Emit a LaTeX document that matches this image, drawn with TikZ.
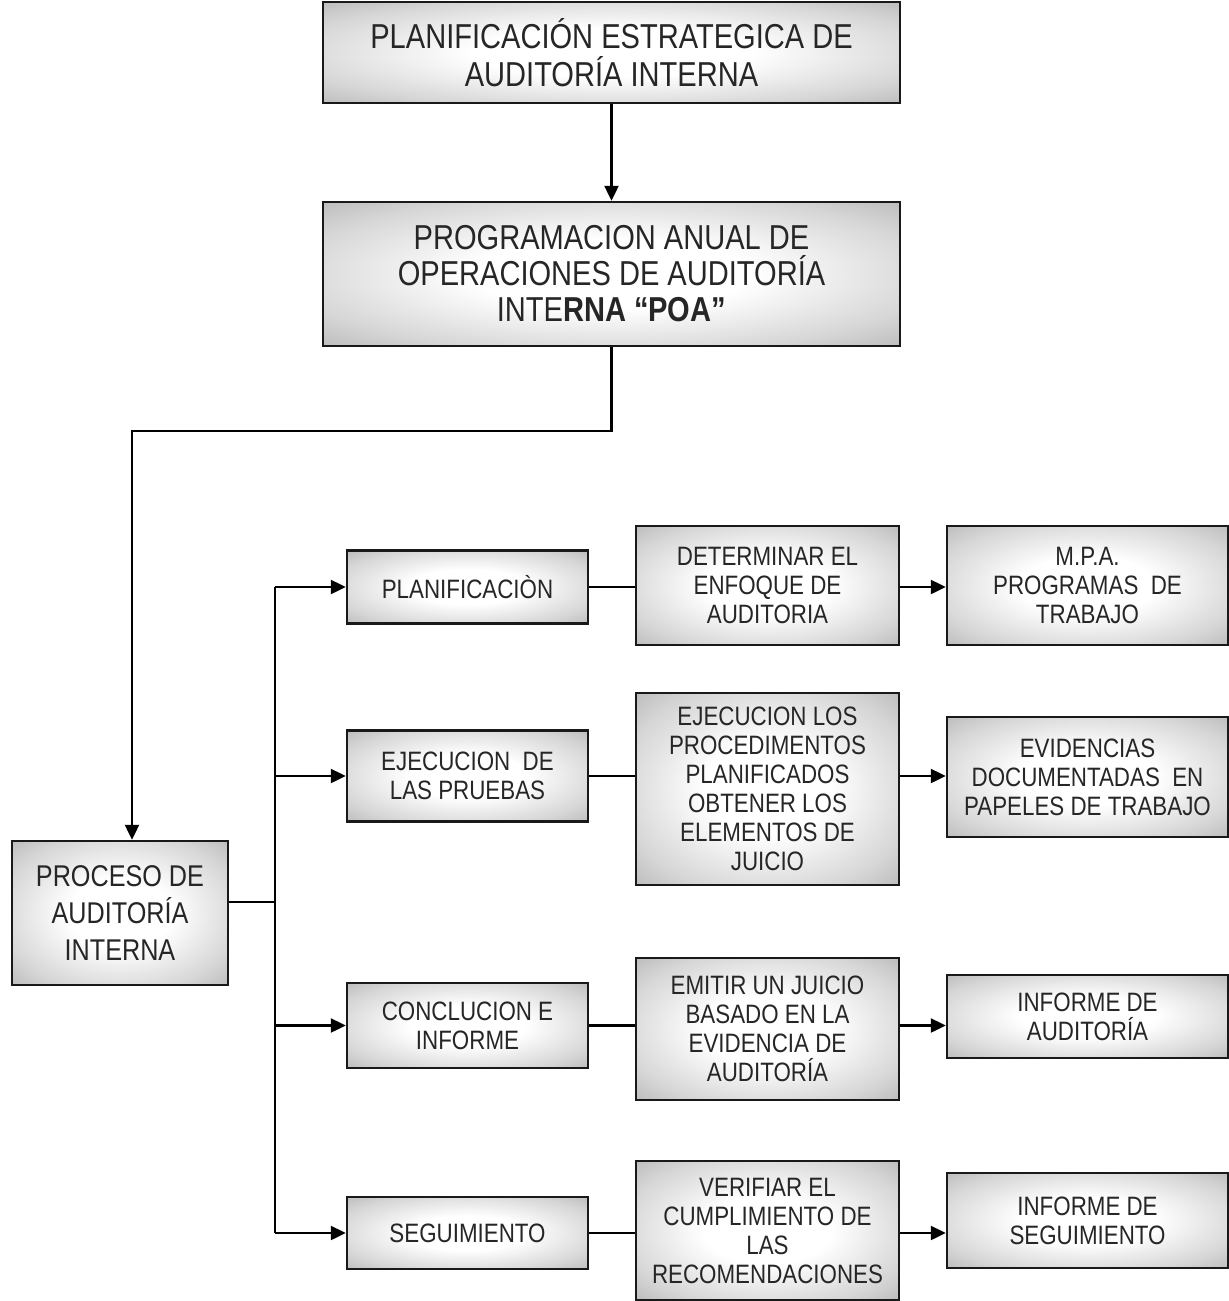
\documentclass[tikz,border=0pt]{standalone}
\usepackage{fontspec}
\setmainfont{Liberation Sans}[FakeStretch=0.84]
\usetikzlibrary{arrows.meta}
\pgfdeclareradialshading{glow}{\pgfpoint{0bp}{0bp}}{%
  color(0bp)=(white); color(12bp)=(white); color(28bp)=(black!16);
  color(44bp)=(black!37); color(100bp)=(black!37)}
\tikzset{
  box/.style={draw=black!90, line width=1.2pt, shade, shading=glow,
    align=center, inner sep=2pt, text=black!85},
  col1/.style={box, minimum width=120.5pt, font=\fontsize{13.3}{14.5}\selectfont},
  col2/.style={box, minimum width=131.5pt, font=\fontsize{13.3}{14.5}\selectfont},
  col3/.style={box, minimum width=140.5pt, font=\fontsize{13.3}{14.5}\selectfont},
  conn/.style={line width=1.1pt},
  arr/.style={conn, -{Triangle[length=7.5pt,width=7pt]}},
}
\begin{document}
\begin{tikzpicture}[x=0.5pt,y=-0.5pt]
  \useasboundingbox (0,0) rectangle (1228,1301);
  % Strategic plan and yearly programme
  \node[box, minimum width=288.5pt, minimum height=50.5pt,
    font=\fontsize{17.3}{19}\selectfont] (pea) at (611.5,52.5)
    {PLANIFICACIÓN ESTRATEGICA DE\\AUDITORÍA INTERNA};
  \node[box, minimum width=288.5pt, minimum height=72pt,
    font=\fontsize{17.3}{18}\selectfont] (poa) at (611.5,274)
    {PROGRAMACION ANUAL DE\\OPERACIONES DE AUDITORÍA\\INTE\textbf{RNA “POA”}};
  % Process box
  \node[box, minimum width=108pt, minimum height=72pt,
    font=\fontsize{15}{18.5}\selectfont] (proc) at (120,913)
    {PROCESO DE\\AUDITORÍA\\INTERNA};
  % First column
  \node[col1, minimum height=36.5pt] (planif) at (467.5,587) {PLANIFICACIÒN};
  \node[col1, minimum height=45.5pt] (ejec) at (467.5,776) {EJECUCION~~DE\\LAS PRUEBAS};
  \node[col1, minimum height=42.5pt] (concl) at (467.5,1025.5) {CONCLUCION E\\INFORME};
  \node[col1, minimum height=36pt] (seg) at (467.5,1233) {SEGUIMIENTO};
  % Second column
  \node[col2, minimum height=59.5pt] (enfoque) at (767.5,585.5)
    {DETERMINAR EL\\ENFOQUE DE\\AUDITORIA};
  \node[col2, minimum height=96pt] (proced) at (767.5,789)
    {EJECUCION LOS\\PROCEDIMENTOS\\PLANIFICADOS\\OBTENER LOS\\ELEMENTOS DE\\JUICIO};
  \node[col2, minimum height=71pt] (juicio) at (767.5,1029)
    {EMITIR UN JUICIO\\BASADO EN LA\\EVIDENCIA DE\\AUDITORÍA};
  \node[col2, minimum height=69.5pt] (verif) at (767.5,1230.5)
    {VERIFIAR EL\\CUMPLIMIENTO DE\\LAS\\RECOMENDACIONES};
  % Third column
  \node[col3, minimum height=59.5pt] (mpa) at (1087.5,585.5)
    {M.P.A.\\PROGRAMAS~~DE\\TRABAJO};
  \node[col3, minimum height=60pt] (evid) at (1087.5,777)
    {EVIDENCIAS\\DOCUMENTADAS~~EN\\PAPELES DE TRABAJO};
  \node[col3, minimum height=41.5pt] (infaud) at (1087.5,1016.5)
    {INFORME DE\\AUDITORÍA};
  \node[col3, minimum height=47.5pt] (infseg) at (1087.5,1220.5)
    {INFORME DE\\SEGUIMIENTO};
  % Connectors
  \draw[arr] (pea) -- (poa);
  \draw[arr] (poa.south) -- ++(0,84) -| ([xshift=6pt]proc.north);
  \coordinate (bus) at (275,902);
  \draw[conn] ([yshift=5.5pt]proc.east) -- (bus);
  \draw[conn] (bus |- planif.west) -- (bus |- seg.west);
  \foreach \a/\b/\c in {planif/enfoque/mpa, ejec/proced/evid,
      concl/juicio/infaud, seg/verif/infseg} {
    \draw[arr] (bus |- \a.west) -- (\a.west);
    \draw[conn] (\a.east) -- (\a.east -| \b.west);
    \draw[arr] (\a.east -| \b.east) -- (\a.east -| \c.west);
  }
\end{tikzpicture}
\end{document}
